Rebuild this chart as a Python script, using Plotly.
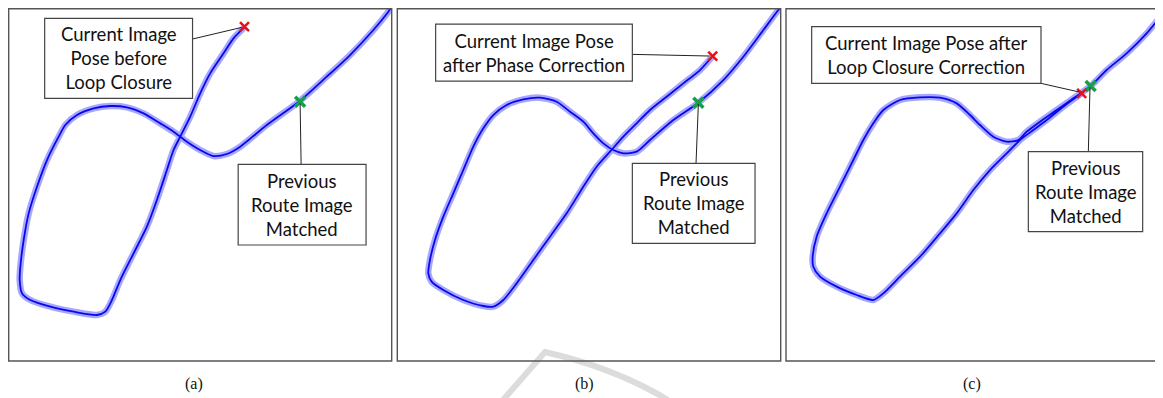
import plotly.graph_objects as go

# ---------------- data (map coordinates) ----------------
traj_a_x = [1172, 1165, 1120, 1050, 980, 900, 800, 720, 680, 640, 600, 560, 520, 480, 430, 380, 330, 280, 230, 195,
            175, 140, 110, 85, 70, 60, 58, 65, 90, 150, 220, 290, 315, 335, 360, 400, 440, 470, 500, 520, 540,
            570, 600, 630, 670, 700, 735]
traj_a_y = [25, 35, 90, 165, 230, 302, 375, 440, 462, 468, 450, 425, 395, 370, 340, 322, 318, 325, 345, 375,
            410, 480, 560, 640, 720, 800, 840, 880, 900, 920, 935, 945, 935, 900, 840, 760, 680, 600, 510, 450, 410,
            350, 280, 220, 160, 115, 80]
cur_a = (733, 80)
prev_a = (900, 305)

traj_b_x = [1172, 1165, 1120, 1060, 1000, 925, 850, 780, 740, 700, 670, 640, 610, 580, 540, 500, 450, 400, 350,
            310, 280, 250, 220, 190, 160, 135, 120, 115, 125, 160, 220, 280, 310, 340, 380, 430, 480, 530, 580,
            620, 660, 700, 740, 780, 830, 880, 930, 968]
traj_b_y = [22, 30, 90, 170, 240, 308, 360, 420, 455, 460, 450, 430, 400, 365, 335, 305, 293, 298, 315,
            345, 385, 440, 510, 580, 650, 720, 780, 820, 845, 870, 900, 918, 920, 900, 850, 780, 710, 640, 560,
            500, 455, 410, 370, 330, 290, 250, 210, 168]
cur_b = (968, 168)
prev_b = (925, 308)

traj_c_x = [1175, 1150, 1100, 1040, 980, 932, 880, 830, 780, 740, 715, 680, 640, 600, 570, 530, 480, 420, 360,
            310, 280, 250, 220, 180, 140, 110, 98, 100, 120, 170, 230, 280, 310, 360, 420, 480, 530, 580, 630,
            680, 720, 760, 800, 850, 905]
traj_c_y = [15, 40, 100, 160, 210, 258, 295, 330, 365, 395, 420, 425, 410, 375, 345, 310, 293, 292, 300,
            330, 370, 420, 480, 560, 640, 710, 770, 800, 830, 860, 885, 900, 880, 830, 770, 700, 640, 570, 510,
            460, 420, 390, 360, 320, 280]
cur_c = (905, 280)
prev_c = (932, 258)

panel_labels = ["(a)", "(b)", "(c)"]
box_texts = [
    ["Current Image<br>Pose before<br>Loop Closure", "Previous<br>Route Image<br>Matched"],
    ["Current Image Pose<br>after Phase Correction", "Previous<br>Route Image<br>Matched"],
    ["Current Image Pose after<br>Loop Closure Correction", "Previous<br>Route Image<br>Matched"],
]

# ---------------- layout geometry ----------------
OFF = 8                      # page body margin
W, H = 1163 - OFF, 398 - OFF
panels = [
    dict(l=8.7, r=391.7, xr=[25, 1175], tx=traj_a_x, ty=traj_a_y, cur=cur_a, prev=prev_a,
         box1=(133, 55, 577, 295), box2=(714, 493, 1098, 735),
         line1=(577, 117, 725, 82), line2=(903, 493, 900, 310), lab=194),
    dict(l=397.3, r=780.7, xr=[22, 1172], tx=traj_b_x, ty=traj_b_y, cur=cur_b, prev=prev_b,
         box1=(137, 72, 727, 243), box2=(727, 490, 1095, 730),
         line1=(727, 163, 958, 168), line2=(918, 490, 925, 312), lab=584),
    dict(l=786.0, r=1163.0, xr=[18, 1149], tx=traj_c_x, ty=traj_c_y, cur=cur_c, prev=prev_c,
         box1=(95, 80, 783, 250), box2=(745, 455, 1088, 695),
         line1=(783, 250, 898, 276), line2=(925, 455, 930, 262), lab=972),
]
top_px, bot_px = 8.7, 361.0
yr = [1083, 26]


def PX(x):
    return min(max((x - OFF) / W, 0.0), 1.0)


def PY(y):
    return min(max(1 - (y - OFF) / H, 0.0), 1.0)


def PXs(x):
    return (x - OFF) / W


def PYs(y):
    return 1 - (y - OFF) / H


fig = go.Figure()
shapes = []
annotations = []

# watermark (faint grey)
shapes.append(dict(type="path", xref="paper", yref="paper", layer="below",
                   path=(f"M {PXs(503):.5f},{PYs(400):.5f} L {PXs(545):.5f},{PYs(352):.5f} "
                         f"Q {PXs(615):.5f},{PYs(368):.5f} {PXs(668):.5f},{PYs(400):.5f}"),
                   line=dict(color="#dcdcdc", width=6)))

for i, p in enumerate(panels):
    n = "" if i == 0 else str(i + 1)
    xa, ya = "x" + n, "y" + n
    fig.update_layout(**{
        "xaxis" + n: dict(domain=[PX(p["l"]), PX(p["r"])], range=p["xr"], visible=False,
                          anchor=ya, fixedrange=True),
        "yaxis" + n: dict(domain=[PY(bot_px), PY(top_px)], range=yr, visible=False,
                          anchor=xa, fixedrange=True),
    })
    # trajectory: light halo of '+' markers, dark centre line
    fig.add_trace(go.Scatter(x=p["tx"], y=p["ty"], xaxis=xa, yaxis=ya, mode="lines",
                             line=dict(color="rgba(80,80,255,0.5)", width=6.5, shape="spline", smoothing=0.7),
                             showlegend=False, hoverinfo="skip"))
    fig.add_trace(go.Scatter(x=p["tx"], y=p["ty"], xaxis=xa, yaxis=ya, mode="lines",
                             line=dict(color="#0808f0", width=1.8, shape="spline", smoothing=0.7),
                             showlegend=False, hoverinfo="skip"))
    # connector lines
    for ln in (p["line1"], p["line2"]):
        shapes.append(dict(type="line", xref=xa, yref=ya, x0=ln[0], y0=ln[1], x1=ln[2], y1=ln[3],
                           line=dict(color="#222", width=1), layer="above"))
    # markers
    fig.add_trace(go.Scatter(x=[p["prev"][0]], y=[p["prev"][1]], xaxis=xa, yaxis=ya, mode="markers",
                             marker=dict(symbol="x-thin", size=10, color="#17a04a",
                                         line=dict(color="#17a04a", width=3.5)),
                             showlegend=False, hoverinfo="skip"))
    fig.add_trace(go.Scatter(x=[p["cur"][0]], y=[p["cur"][1]], xaxis=xa, yaxis=ya, mode="markers",
                             marker=dict(symbol="x-thin", size=9, color="#ee1010",
                                         line=dict(color="#ee1010", width=2.5)),
                             showlegend=False, hoverinfo="skip"))
    # annotation boxes
    for b, t in ((p["box1"], box_texts[i][0]), (p["box2"], box_texts[i][1])):
        shapes.append(dict(type="rect", xref=xa, yref=ya, x0=b[0], y0=b[1], x1=b[2], y1=b[3],
                           line=dict(color="#444", width=1.2), fillcolor="white", layer="above"))
        annotations.append(dict(xref=xa, yref=ya, x=(b[0] + b[2]) / 2, y=(b[1] + b[3]) / 2,
                                text=t, showarrow=False, xanchor="center", yanchor="middle", align="center",
                                font=dict(family="Lato", size=18.5, color="#111")))
    # panel frame
    shapes.append(dict(type="rect", xref="paper", yref="paper",
                       x0=PXs(p["l"]), x1=PXs(p["r"] + (6 if i == 2 else 0)),
                       y0=PYs(bot_px), y1=PYs(top_px),
                       line=dict(color="#555", width=1.4), layer="above"))
    # caption
    annotations.append(dict(xref="paper", yref="paper", x=PXs(p["lab"]), y=PYs(384),
                            text=panel_labels[i], showarrow=False, xanchor="center", yanchor="middle",
                            font=dict(family="Liberation Serif", size=16, color="#111")))

fig.update_layout(width=W, height=H, margin=dict(l=0, r=0, t=0, b=0),
                  paper_bgcolor="white", plot_bgcolor="white",
                  shapes=shapes, annotations=annotations, showlegend=False)

fig.write_html("out.html")
